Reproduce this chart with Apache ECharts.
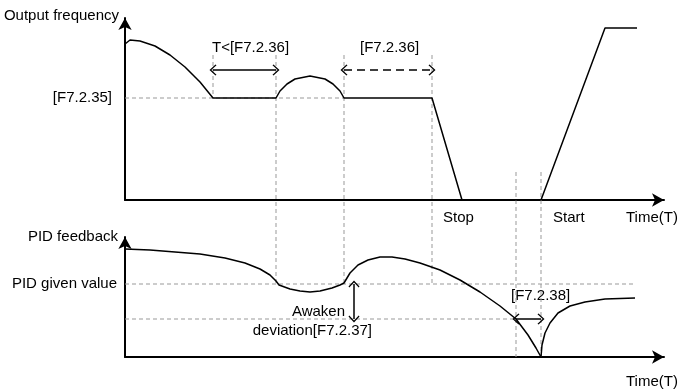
<!DOCTYPE html>
<html><head><meta charset="utf-8">
<script src="https://cdn.jsdelivr.net/npm/echarts@6/dist/echarts.min.js"></script>
<style>html,body{margin:0;padding:0;background:#fff}#c{width:678px;height:390px}</style>
</head><body><div id="c"></div>
<script>
// Output frequency curve (time, level)
const freqTime  = [0, 5, 15, 30, 45, 60, 75, 88, 151, 155, 162, 170, 185, 200, 208, 215, 219, 307, 337, 416, 480, 512];
const freqValue = [156, 160, 159, 154, 145, 133, 118, 102, 102, 109, 116, 121, 124, 121, 116, 109, 102, 102, 0, 0, 172, 172];
// PID feedback curve (falling part, then recovery)
const pidTime  = [0, 25, 50, 75, 100, 120, 135, 145, 151, 154, 165, 175, 185, 195, 207, 215, 219, 225, 233, 243, 255, 267, 280, 295, 315, 335, 355, 375, 391, 403, 411, 416];
const pidValue = [108, 107, 105, 103, 99, 94, 88, 82, 76, 72, 68, 66, 65, 66, 69, 72, 74, 84, 92, 97, 100, 100, 98, 94, 87, 77, 65, 51, 38, 22, 9, 0];
const recTime  = [416, 417, 420, 425, 433, 445, 460, 480, 510];
const recValue = [0, 12, 24, 34, 44, 51, 55, 58, 59];
// levels
const sleepFreq = 102;   // [F7.2.35]
const givenValue = 73;   // PID given value
const wakeValue = 38;    // given - awaken deviation
// guide lines (overlay coords)
const guideTime   = [88, 151, 219, 307, 391, 416];
const guideTop    = [302, 302, 302, 302, 185, 185];
const guideBottom = [259, 72, 74, 73, 0, 0];
// dimension arrows
const arrowSleepT   = [88, 151];  const arrowY1 = 287;
const arrowDelayT   = [219, 307];
const awakenT = 229;
const arrowWakeT    = [391, 416];

const FONT = 'Liberation Sans, Arial, sans-serif';
const chev = 'path://M0,0L7,7L6,8.2L0,2.2L-6,8.2L-7,7Z';

const zip = (a, b) => a.map((v, i) => [v, b[i]]);
const GL = 125, GR = 14, XMAX = 678 - GL - GR;

const series = [];
series.push({type:'line', xAxisIndex:0, yAxisIndex:0, data: zip(freqTime, freqValue), symbol:'none', lineStyle:{color:'#000', width:1.5}, z:5});
series.push({type:'line', xAxisIndex:0, yAxisIndex:0, data: [[0, sleepFreq],[freqTime[16], sleepFreq]], symbol:'none', lineStyle:{color:'#999', width:1, type:[4,3]}, z:3});
series.push({type:'line', xAxisIndex:1, yAxisIndex:1, data: zip(pidTime, pidValue), symbol:'none', lineStyle:{color:'#000', width:1.5}, z:5});
series.push({type:'line', xAxisIndex:1, yAxisIndex:1, data: zip(recTime, recValue), symbol:'none', lineStyle:{color:'#000', width:1.5}, z:5});
series.push({type:'line', xAxisIndex:1, yAxisIndex:1, data: [[0, givenValue],[recTime[recTime.length-1], givenValue]], symbol:'none', lineStyle:{color:'#999', width:1, type:[4,3]}, z:3});
series.push({type:'line', xAxisIndex:1, yAxisIndex:1, data: [[0, wakeValue],[guideTime[4], wakeValue]], symbol:'none', lineStyle:{color:'#999', width:1, type:[4,3]}, z:3});
guideTime.forEach((t, i) => {
  series.push({type:'line', xAxisIndex:2, yAxisIndex:2, data: [[t, guideTop[i]],[t, guideBottom[i]]], symbol:'none', lineStyle:{color:'#999', width:1, type:[4,3]}, z:3});
});
const ml = (a, b, dashed) => ({
  silent:true, symbol:[chev, chev], symbolSize:[11,7], label:{show:false},
  lineStyle:{color:'#000', width:1.5, type: dashed ? [8,5] : 'solid'},
  emphasis:{disabled:true}, animation:false,
  data:[[{coord:a},{coord:b}]]
});
series.push({type:'line', xAxisIndex:2, yAxisIndex:2, data:[], markLine: ml([arrowSleepT[0], arrowY1],[arrowSleepT[1], arrowY1], false)});
series.push({type:'line', xAxisIndex:2, yAxisIndex:2, data:[], markLine: ml([arrowDelayT[0], arrowY1],[arrowDelayT[1], arrowY1], true)});
series.push({type:'line', xAxisIndex:2, yAxisIndex:2, data:[], markLine: ml([awakenT, givenValue],[awakenT, wakeValue], false)});
series.push({type:'line', xAxisIndex:2, yAxisIndex:2, data:[], markLine: ml([arrowWakeT[0], wakeValue],[arrowWakeT[1], wakeValue], false)});

const axisLine = {show:true, onZero:false, symbol:['none','arrow'], symbolSize:[10,12], lineStyle:{color:'#000', width:2}};
const txt = (text, x, y, align) => ({type:'text', x, y, silent:true, style:{text, fill:'#000', font:'15px ' + FONT, textAlign:align || 'left', textVerticalAlign:'middle'}});

const option = {
  animation:false,
  backgroundColor:'#fff',
  grid:[
    {left:GL, right:GR, top:18, height:182},
    {left:GL, right:GR, top:237, bottom:33},
    {left:GL, right:GR, top:18, bottom:33}
  ],
  xAxis:[
    {gridIndex:0, type:'value', min:0, max:XMAX, axisLine, axisTick:{show:false}, axisLabel:{show:false}, splitLine:{show:false}},
    {gridIndex:1, type:'value', min:0, max:XMAX, axisLine, axisTick:{show:false}, axisLabel:{show:false}, splitLine:{show:false}},
    {gridIndex:2, type:'value', min:0, max:XMAX, show:false}
  ],
  yAxis:[
    {gridIndex:0, type:'value', min:0, max:182, axisLine, axisTick:{show:false}, splitLine:{show:false},
      axisLabel:{customValues:[sleepFreq], formatter:()=>'[F7.2.35]', margin:13, color:'#000', fontSize:15, fontFamily:FONT}},
    {gridIndex:1, type:'value', min:0, max:120, axisLine, axisTick:{show:false}, splitLine:{show:false},
      axisLabel:{customValues:[givenValue], formatter:()=>'PID given value', margin:8, color:'#000', fontSize:15, fontFamily:FONT}},
    {gridIndex:2, type:'value', min:0, max:339, show:false}
  ],
  graphic:[
    txt('Output frequency', 119, 16, 'right'),
    txt('T<[F7.2.36]', 212, 48),
    txt('[F7.2.36]', 360, 48),
    txt('Stop', 443, 218),
    txt('Start', 553, 218),
    txt('Time(T)', 626, 218),
    txt('PID feedback', 118, 237, 'right'),
    txt('Awaken', 345, 312, 'right'),
    txt('deviation[F7.2.37]', 372, 331, 'right'),
    txt('[F7.2.38]', 511, 296),
    txt('Time(T)', 626, 382)
  ],
  series
};
const chart = echarts.init(document.getElementById('c'), null, {renderer:'canvas'});
chart.setOption(option);
</script>
</body></html>
